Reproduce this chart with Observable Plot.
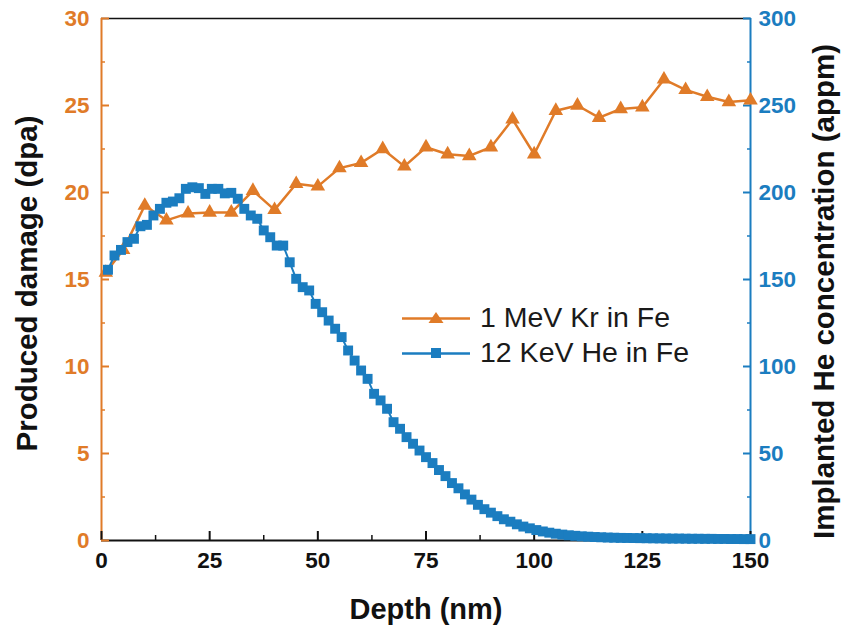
<!DOCTYPE html>
<html><head><meta charset="utf-8">
<script src="https://cdn.jsdelivr.net/npm/d3@7"></script>
<script src="https://cdn.jsdelivr.net/npm/@observablehq/plot@0.6"></script>
<style>
body{margin:0;background:#fff;font-family:"Liberation Sans",Arial,sans-serif;}
#wrap{position:relative;width:842px;height:632px;}
#legend{position:absolute;left:402px;top:300px;font-size:28.5px;color:#1a1a1a;}
.row{display:flex;align-items:center;height:35px;white-space:nowrap;}
.row svg{margin-right:10px;}
</style></head><body>
<div id="wrap"><div id="chart"></div><div id="legend"></div></div>
<script>
const ORANGE = "#E07B28", BLUE = "#1B7DC0";

// 1 MeV Kr in Fe — produced damage (dpa)
const krDepth  = [1, 5, 10, 15, 20, 25, 30, 35, 40, 45, 50, 55, 60, 65, 70, 75, 80, 85, 90, 95, 100, 105, 110, 115, 120, 125, 130, 135, 140, 145, 150];
const krDamage = [15.4, 16.7, 19.25, 18.4, 18.8, 18.85, 18.85, 20.1, 19.0, 20.5, 20.35, 21.4, 21.7, 22.5, 21.5, 22.6, 22.2, 22.1, 22.6, 24.2, 22.2, 24.7, 25.0, 24.3, 24.8, 24.9, 26.5, 25.9, 25.5, 25.2, 25.3];

// 12 KeV He in Fe — implanted He concentration (appm)
const heDepth = [1.5, 3, 4.5, 6, 7.5, 9, 10.5, 12, 13.5, 15, 16.5, 18, 19.5, 21, 22.5, 24, 25.5, 27, 28.5, 30,
  31.5, 33, 34.5, 36, 37.5, 39, 40.5, 42, 43.5, 45, 46.5, 48, 49.5, 51, 52.5, 54, 55.5, 57, 58.5, 60,
  61.5, 63, 64.5, 66, 67.5, 69, 70.5, 72, 73.5, 75, 76.5, 78, 79.5, 81, 82.5, 84, 85.5, 87, 88.5, 90,
  91.5, 93, 94.5, 96, 97.5, 99, 100.5, 102, 103.5, 105, 106.5, 108, 109.5, 111, 112.5, 114, 115.5, 117, 118.5, 120,
  121.5, 123, 124.5, 126, 127.5, 129, 130.5, 132, 133.5, 135, 136.5, 138, 139.5, 141, 142.5, 144, 145.5, 147, 148.5, 150];
const heConc = [155.6, 163.8, 167, 171.5, 173.4, 180.6, 181.4, 186.8, 190.6, 194.1, 194.8, 196.7, 202.1, 203.0, 202.5, 199.2, 202.1, 202.1, 199.5, 199.8,
  196.4, 190.6, 186.8, 184.9, 178.2, 174.3, 169.5, 169.5, 159.9, 150.4, 145.6, 143.7, 136, 131.2, 126.4, 121.7, 116.9, 109.2, 103.4, 97.7,
  92.9, 84.3, 80.5, 75.7, 68, 64.2, 59.4, 55.6, 51.7, 47.9, 44.5, 40.5, 37, 33, 30, 26.5, 23.5, 20.5, 18, 16,
  14, 12.2, 10.8, 9.3, 8, 7, 6, 5.2, 4.5, 3.9, 3.4, 3.0, 2.7, 2.4, 2.2, 2.0, 1.85, 1.7, 1.6, 1.5,
  1.45, 1.4, 1.35, 1.3, 1.25, 1.2, 1.15, 1.1, 1.1, 1.05, 1.0, 1.0, 0.95, 0.95, 0.9, 0.9, 0.85, 0.85, 0.8, 0.8];

const seriesNames = ["1 MeV Kr in Fe", "12 KeV He in Fe"];
const xDomain = [0, 150], dpaDomain = [0, 30], appmDomain = [0, 300];
const xTicks = [0, 25, 50, 75, 100, 125, 150];
const xMinor = [12.5, 37.5, 62.5, 87.5, 112.5, 137.5];
const dpaTicks = [0, 5, 10, 15, 20, 25, 30];
const dpaMinor = [2.5, 7.5, 12.5, 17.5, 22.5, 27.5];
const appmTicks = [0, 50, 100, 150, 200, 250, 300];
const appmMinor = [25, 75, 125, 175, 225, 275];
const xLabel = "Depth (nm)", yLabel = "Produced damage (dpa)", y2Label = "Implanted He concentration (appm)";

const ratio = appmDomain[1] / dpaDomain[1];
const kr = krDepth.map((d, i) => ({depth: d, dpa: krDamage[i]}));
const he = heDepth.map((d, i) => ({depth: d, y: heConc[i] / ratio}));

const font = "Liberation Sans, Arial, sans-serif";
const tickFont = {fontSize: 22.5, fontWeight: "bold", fontFamily: font};
const labelFont = {fontWeight: "bold", fill: "#111", fontFamily: font, textAnchor: "middle", lineAnchor: "middle"};

const chart = Plot.plot({
  width: 842, height: 632,
  marginLeft: 101, marginRight: 92, marginTop: 18, marginBottom: 92,
  x: {domain: xDomain, label: null},
  y: {domain: dpaDomain, label: null},
  style: {background: "white", fontFamily: font},
  marks: [
    Plot.ruleY([dpaDomain[1]], {stroke: "#111", strokeWidth: 1.5}),
    Plot.ruleY([dpaDomain[0]], {stroke: "#111", strokeWidth: 2}),
    Plot.ruleX([xDomain[0]], {stroke: ORANGE, strokeWidth: 2}),
    Plot.ruleX([xDomain[1]], {stroke: BLUE, strokeWidth: 2}),
    Plot.axisX(xTicks, {anchor: "bottom", tickSize: -9, tickPadding: 21, stroke: "#111", fill: "#111", strokeWidth: 2, label: null, ...tickFont}),
    Plot.axisX(xMinor, {anchor: "bottom", tickSize: -5, tickFormat: () => "", stroke: "#111", strokeWidth: 1.5, label: null}),
    Plot.axisY(dpaTicks, {anchor: "left", tickSize: -8, tickPadding: 20, stroke: ORANGE, fill: ORANGE, strokeWidth: 2, label: null, ...tickFont}),
    Plot.axisY(dpaMinor, {anchor: "left", tickSize: -4, tickFormat: () => "", stroke: ORANGE, strokeWidth: 1.5, label: null}),
    Plot.axisY(appmTicks.map(v => v / ratio), {anchor: "right", tickSize: -8, tickPadding: 16, tickFormat: d => String(Math.round(d * ratio)), stroke: BLUE, fill: BLUE, strokeWidth: 2, label: null, ...tickFont}),
    Plot.axisY(appmMinor.map(v => v / ratio), {anchor: "right", tickSize: -4, tickFormat: () => "", stroke: BLUE, strokeWidth: 1.5, label: null}),
    Plot.line(kr, {x: "depth", y: "dpa", stroke: ORANGE, strokeWidth: 2.5}),
    Plot.dot(kr, {x: "depth", y: "dpa", symbol: "triangle", r: 5.4, fill: ORANGE}),
    Plot.line(he, {x: "depth", y: "y", stroke: BLUE, strokeWidth: 2}),
    Plot.dot(he, {x: "depth", y: "y", symbol: "square", r: 5.6, fill: BLUE}),
    Plot.text([xLabel], {frameAnchor: "bottom", dy: 69, fontSize: 29, ...labelFont}),
    Plot.text([yLabel], {frameAnchor: "left", dx: -74, dy: 4, rotate: -90, fontSize: 29.5, ...labelFont}),
    Plot.text([y2Label], {frameAnchor: "right", dx: 74, dy: 12, rotate: -90, fontSize: 29.5, ...labelFont})
  ]
});
document.getElementById("chart").append(chart);

const sym = [
  `<polygon points="34,3 41.5,14 26.5,14" fill="${ORANGE}"/>`,
  `<rect x="29" y="4" width="10" height="10" fill="${BLUE}"/>`
];
const colors = [ORANGE, BLUE];
document.getElementById("legend").innerHTML = seriesNames.map((n, i) =>
  `<div class="row"><svg width="68" height="18"><line x1="0" x2="68" y1="9.5" y2="9.5" stroke="${colors[i]}" stroke-width="2.5"/>${sym[i]}</svg><span>${n}</span></div>`
).join("");
</script>
</body></html>
